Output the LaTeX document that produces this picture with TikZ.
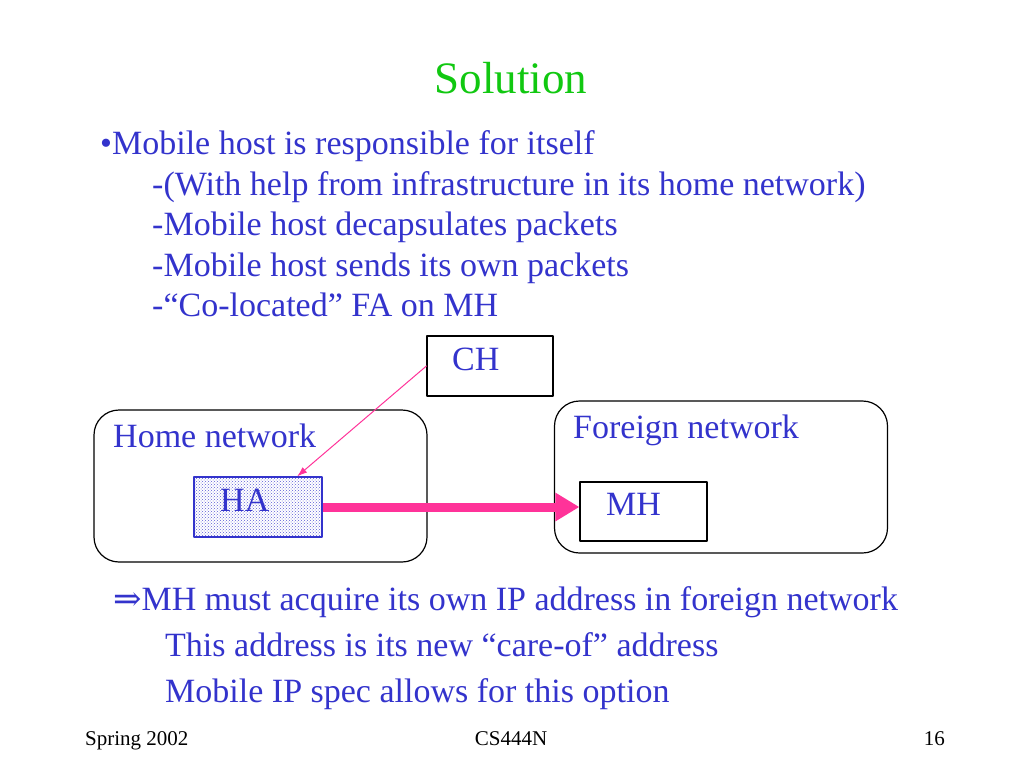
\documentclass[tikz,border=0pt]{standalone}
\usepackage{fontspec}
\setmainfont{Liberation Serif}
\newfontfamily\arrowfont{DejaVu Serif}
\usetikzlibrary{arrows.meta,patterns}
\definecolor{txtblue}{RGB}{51,51,204}
\definecolor{ttlgreen}{RGB}{17,200,17}
\definecolor{hotpink}{RGB}{255,51,153}
\begin{document}
\begin{tikzpicture}[x=1pt, y=-1pt, line join=round, line cap=round,
	txt/.style={anchor=base west, inner sep=0pt, text=txtblue, font=\fontsize{34}{40}\selectfont},
	foot/.style={anchor=base, inner sep=0pt, font=\fontsize{21}{24}\selectfont},
	box/.style={draw, line width=1.2pt, inner sep=0pt},
	net/.style={box, rounded corners=25pt, minimum width=333pt, minimum height=152pt}]
	\useasboundingbox (0,0) rectangle (1024,768);

	% title and bullets
	\node[anchor=base, inner sep=0pt, text=ttlgreen, font=\fontsize{45}{50}\selectfont] (title) at (511,93) {Solution};
	\node[txt] (b1) at (100,154) {\textbullet Mobile host is responsible for itself};
	\foreach \y/\t [count=\i] in {195/{-(With help from infrastructure in its home network)},
		235/{-Mobile host decapsulates packets},
		276/{-Mobile host sends its own packets},
		316/{-``Co-located'' FA on MH}}
	\node[txt] (s\i) at (152,\y) {\t};

	% boxes
	\node[net] (home) at (260.5,486) {};
	\node[net] (foreign) at (721,477) {};
	\node[box, minimum width=126pt, minimum height=60pt] (ch) at (490,366) {};
	\node[box, draw=txtblue, pattern=crosshatch dots, pattern color=txtblue!80, minimum width=128pt, minimum height=60pt] (ha) at (258,507) {};
	\node[box, minimum width=127pt, minimum height=59pt] (mh) at (643.5,511.5) {};

	\node[txt] (homelbl) at (113,447) {Home network};
	\node[txt] (forlbl) at (573,438) {Foreign network};
	\node[txt] (chlbl) at (452,370) {CH};
	\node[txt] (halbl) at (220,511) {HA};
	\node[txt] (mhlbl) at (606,515) {MH};

	\draw[hotpink, line width=1pt, -{Latex[length=10pt,width=7pt]}] (ch.west) -- (ha.38);
	\draw[hotpink, line width=9pt, line cap=butt, -{Triangle[length=24pt,width=27pt]}] (ha.east) -- (ha.east -| mh.west);

	% conclusion
	\node[txt] (c1) at (113,610) {{\arrowfont ⇒}MH must acquire its own IP address in foreign network};
	\node[txt] (c2) at (165,656) {This address is its new ``care-of'' address};
	\node[txt] (c3) at (165,702) {Mobile IP spec allows for this option};

	% footer
	\node[foot, anchor=base west] (f1) at (85,745) {Spring 2002};
	\node[foot] (f2) at (511,745) {CS444N};
	\node[foot, anchor=base east] (f3) at (945,745) {16};
\end{tikzpicture}
\end{document}
